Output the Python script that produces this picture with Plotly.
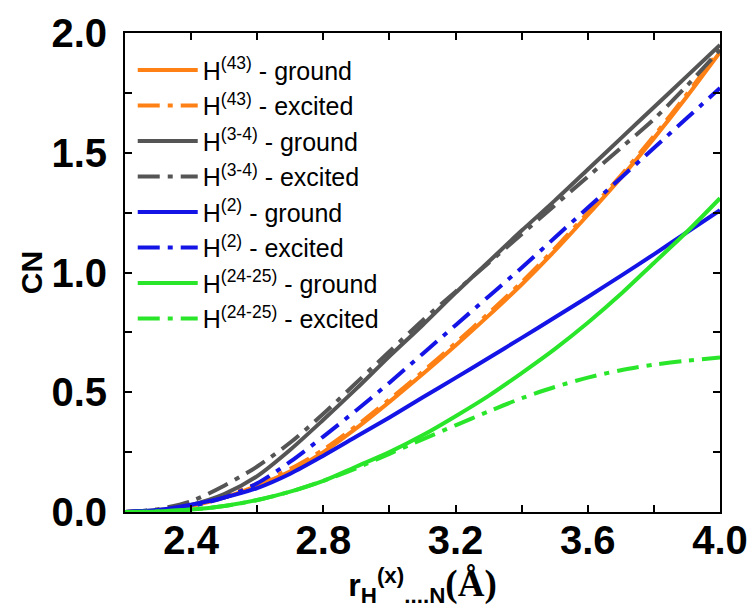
import plotly.graph_objects as go

r_values = [2.2, 2.3, 2.4, 2.5, 2.6, 2.7, 2.8, 2.9, 3.0, 3.1, 3.2, 3.3, 3.4, 3.5, 3.6, 3.7, 3.8, 3.9, 4.0]

h43_ground = [0, 0.005, 0.025, 0.06, 0.11, 0.17, 0.25, 0.35, 0.46, 0.575, 0.695, 0.82, 0.95, 1.09, 1.24, 1.395, 1.56, 1.735, 1.92]
h43_excited = [0, 0.006, 0.028, 0.065, 0.118, 0.18, 0.26, 0.36, 0.47, 0.585, 0.705, 0.83, 0.96, 1.10, 1.25, 1.405, 1.57, 1.745, 1.93]
h34_ground = [0, 0.008, 0.03, 0.075, 0.15, 0.26, 0.385, 0.515, 0.65, 0.78, 0.915, 1.045, 1.175, 1.30, 1.43, 1.56, 1.69, 1.82, 1.95]
h34_excited = [0, 0.012, 0.045, 0.11, 0.19, 0.29, 0.41, 0.54, 0.67, 0.80, 0.92, 1.04, 1.16, 1.28, 1.40, 1.52, 1.64, 1.78, 1.93]
h2_ground = [0, 0.008, 0.03, 0.06, 0.10, 0.16, 0.235, 0.315, 0.395, 0.478, 0.56, 0.643, 0.727, 0.812, 0.898, 0.986, 1.076, 1.168, 1.26]
h2_excited = [0, 0.008, 0.025, 0.06, 0.12, 0.21, 0.315, 0.425, 0.54, 0.66, 0.78, 0.90, 1.02, 1.145, 1.27, 1.395, 1.52, 1.645, 1.77]
h2425_ground = [0, 0.002, 0.01, 0.025, 0.05, 0.085, 0.13, 0.19, 0.25, 0.32, 0.40, 0.485, 0.58, 0.68, 0.79, 0.91, 1.04, 1.17, 1.31]
h2425_excited = [0, 0.002, 0.01, 0.025, 0.05, 0.085, 0.13, 0.183, 0.243, 0.303, 0.362, 0.42, 0.475, 0.522, 0.561, 0.592, 0.615, 0.632, 0.645]

x_tickvals = [2.4, 2.8, 3.2, 3.6, 4.0]
y_tickvals = [0.0, 0.5, 1.0, 1.5, 2.0]

ORANGE = "#ff8014"
GRAY = "#555555"
BLUE = "#1414e6"
GREEN = "#2ae62a"
DASHDOT = "22px,8px,5px,8px"

series = [
    ("H<sup>(43)</sup> - ground", h43_ground, ORANGE, "solid"),
    ("H<sup>(43)</sup> - excited", h43_excited, ORANGE, DASHDOT),
    ("H<sup>(3-4)</sup> - ground", h34_ground, GRAY, "solid"),
    ("H<sup>(3-4)</sup> - excited", h34_excited, GRAY, DASHDOT),
    ("H<sup>(2)</sup> - ground", h2_ground, BLUE, "solid"),
    ("H<sup>(2)</sup> - excited", h2_excited, BLUE, DASHDOT),
    ("H<sup>(24-25)</sup> - ground", h2425_ground, GREEN, "solid"),
    ("H<sup>(24-25)</sup> - excited", h2425_excited, GREEN, DASHDOT),
]

fig = go.Figure()
for name, vals, color, dash in series:
    fig.add_trace(go.Scatter(
        x=r_values, y=vals, mode="lines", name=name,
        line=dict(color=color, width=4, dash=dash, shape="spline", smoothing=0.8),
    ))

axis_common = dict(
    showline=True, linewidth=2, linecolor="black", mirror="ticks",
    ticks="inside", ticklen=7, tickwidth=2, tickcolor="black",
    showgrid=False, zeroline=False,
    tickfont=dict(size=40, weight="bold", color="black"),
)

fig.update_xaxes(
    range=[2.2, 4.0], tickvals=x_tickvals, tickformat=".1f",
    minor=dict(dtick=0.2, tick0=2.2, ticks="inside", ticklen=7, tickwidth=2, tickcolor="black"),
    ticklabelstandoff=-8,
    title=dict(
        text="<b>r<sub>H</sub><sup>(x)</sup><sub>....N</sub></b>"
             "<span style=\"font-family:'Liberation Serif';font-size:37px\"><b>(Å)</b></span>",
        font=dict(size=32, color="black"), standoff=13,
    ),
    **axis_common,
)
fig.update_yaxes(
    range=[0, 2.0], tickvals=y_tickvals, tickformat=".1f",
    minor=dict(dtick=0.25, tick0=0, ticks="inside", ticklen=7, tickwidth=2, tickcolor="black"),
    ticklabelstandoff=8,
    title=dict(text="<b>CN</b>", font=dict(size=30, color="black"), standoff=0),
    **axis_common,
)

fig.update_layout(
    width=750, height=610,
    margin=dict(l=125, r=30, t=33, b=98, autoexpand=False),
    plot_bgcolor="white", paper_bgcolor="white",
    font=dict(family="Liberation Sans, Arial, sans-serif", color="black"),
    legend=dict(
        x=0.013, y=0.97, xanchor="left", yanchor="top",
        bgcolor="rgba(0,0,0,0)", font=dict(size=25, color="black"),
        itemwidth=60, tracegroupgap=0,
    ),
    showlegend=True,
)

fig.write_html(
    "out.html",
    config={"displayModeBar": False},
    post_script="document.body.style.margin='0px';",
)
